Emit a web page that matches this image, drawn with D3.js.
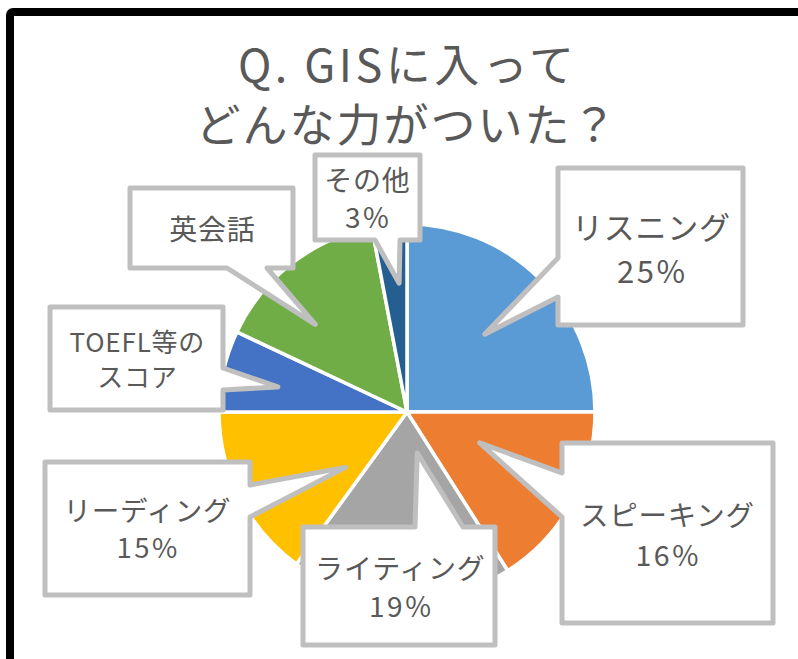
<!DOCTYPE html>
<html>
<head>
<meta charset="utf-8">
<script src="https://cdn.jsdelivr.net/npm/d3@7"></script>
<style>
  html, body { margin: 0; padding: 0; background: #ffffff; }
  svg { display: block; }
  text { font-family: "Noto Sans CJK JP", "Noto Sans", sans-serif; fill: #595959; }
</style>
</head>
<body>
<svg id="chart" width="798" height="659"></svg>
<script>
// ---- data ----
const titleLines = ["Q. GISに入って", "どんな力がついた？"];
const categories = ["リスニング", "スピーキング", "ライティング", "リーディング", "TOEFL等のスコア", "英会話", "その他"];
const values = [25, 16, 19, 15, 7, 15, 3];
const colors = ["#5B9BD5", "#ED7D31", "#A5A5A5", "#FFC000", "#4472C4", "#70AD47", "#255E91"];
const labelNameLines = [["リスニング"], ["スピーキング"], ["ライティング"], ["リーディング"], ["TOEFL等の", "スコア"], ["英会話"], ["その他"]];
const showPercent = [true, true, true, true, false, false, true];

// ---- layout (positions & styles only) ----
const W = 798, H = 659;
const cx = 407, cy = 412, R = 188;
const callouts = [
  { box: [558, 168, 185, 157], side: "left",   base: [258, 297], tipDA: 0,    tipRF: 0.585, fs: 31,   tx: 651, ys: [239, 283] },
  { box: [562, 443, 211, 180], side: "left",   base: [473, 517], tipDA: -5.8, tipRF: 0.42,  fs: 28.5, tx: 667, ys: [526, 566] },
  { box: [303, 527, 192, 118], side: "top",    base: [415, 463], tipDA: -15.8,tipRF: 0.225, fs: 28,   tx: 400, ys: [579, 617] },
  { box: [45, 462, 205, 133],  side: "right",  base: [485, 517], tipDA: -15,  tipRF: 0.44,  fs: 27.5, tx: 147, ys: [521, 558] },
  { box: [50, 307, 173, 103],  side: "right",  base: [368, 390], tipDA: -1.6, tipRF: 0.70,  fs: 26,   tx: 137, ys: [352, 387] },
  { box: [130, 188, 163, 80],  side: "bottom", base: [227, 267], tipDA: -8.5, tipRF: 0.675, fs: 28,   tx: 212, ys: [240] },
  { box: [315, 155, 105, 85],  side: "bottom", base: [375, 400], tipDA: 1.9,  tipRF: 0.686, fs: 28,   tx: 367, ys: [191, 228] }
];

const svg = d3.select("#chart");
svg.append("rect").attr("width", W).attr("height", H).attr("fill", "#fff");

// frame
svg.append("rect")
  .attr("x", 10).attr("y", 12).attr("width", 820).attr("height", 700)
  .attr("rx", 3).attr("fill", "none").attr("stroke", "#000").attr("stroke-width", 8);

// title
const titleY = [82, 142];
const titleSpacing = [3.5, 2];
titleLines.forEach((t, i) => {
  svg.append("text").attr("x", 406 + titleSpacing[i] / 2).attr("y", titleY[i])
    .attr("text-anchor", "middle").attr("font-size", 45)
    .attr("letter-spacing", titleSpacing[i]).text(t);
});

// pie
const pie = d3.pie().sort(null).startAngle(0).endAngle(2 * Math.PI);
const arcs = pie(values);
const arc = d3.arc().innerRadius(0).outerRadius(R);
const g = svg.append("g").attr("transform", `translate(${cx},${cy})`);
g.selectAll("path.slice").data(arcs).join("path")
  .attr("class", "slice")
  .attr("d", arc)
  .attr("fill", (d, i) => colors[i])
  .attr("stroke", "#fff").attr("stroke-width", 3.5).attr("stroke-linejoin", "miter");

// callouts
function calloutPath(b, side, base, tip) {
  const [x, y, w, h] = b;
  const [a, c] = base;
  let pts;
  if (side === "top") pts = [[x, y], [a, y], tip, [c, y], [x + w, y], [x + w, y + h], [x, y + h]];
  else if (side === "right") pts = [[x, y], [x + w, y], [x + w, a], tip, [x + w, c], [x + w, y + h], [x, y + h]];
  else if (side === "bottom") pts = [[x, y], [x + w, y], [x + w, y + h], [c, y + h], tip, [a, y + h], [x, y + h]];
  else pts = [[x, y], [x + w, y], [x + w, y + h], [x, y + h], [x, c], tip, [x, a]];
  return "M" + pts.map(p => p.join(",")).join("L") + "Z";
}

arcs.forEach((d, i) => {
  const c = callouts[i];
  const mid = (d.startAngle + d.endAngle) / 2 + c.tipDA * Math.PI / 180;
  const r = R * c.tipRF;
  const tip = [cx + r * Math.sin(mid), cy - r * Math.cos(mid)];
  svg.append("path")
    .attr("d", calloutPath(c.box, c.side, c.base, tip))
    .attr("fill", "#fff").attr("stroke", "#BFBFBF").attr("stroke-width", 5)
    .attr("stroke-linejoin", "round");
  const lines = labelNameLines[i].map(t => ({ t, pct: false }));
  if (showPercent[i]) lines.push({ t: values[i] + "%", pct: true });
  lines.forEach((l, j) => {
    const ls = l.pct ? 2.5 : 0.8;
    svg.append("text").attr("x", c.tx + ls / 2).attr("y", c.ys[j])
      .attr("text-anchor", "middle").attr("font-size", c.fs)
      .attr("letter-spacing", ls)
      .text(l.t);
  });
});
</script>
</body>
</html>
